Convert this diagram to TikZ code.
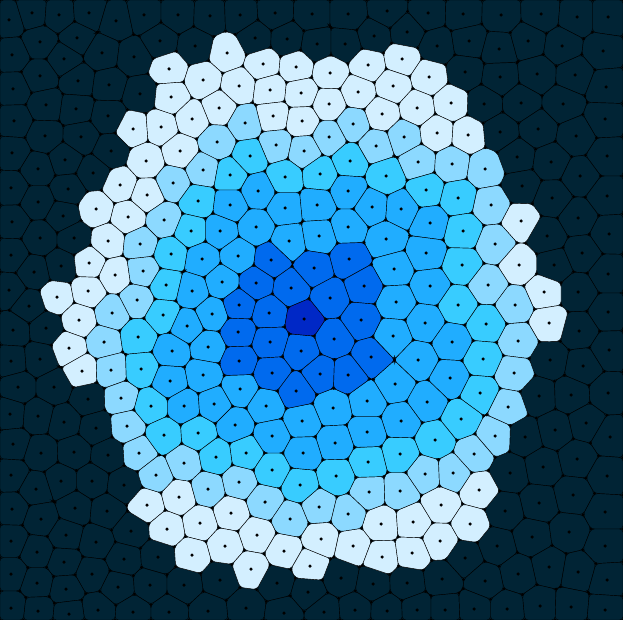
\documentclass[tikz,border=0pt]{standalone}
\usepackage{xcolor}

\definecolor{cellk}{HTML}{012435}
\definecolor{cella}{HTML}{D3EFFF}
\definecolor{cellb}{HTML}{8CD9FF}
\definecolor{cellc}{HTML}{38CCFF}
\definecolor{celld}{HTML}{20ADFF}
\definecolor{celle}{HTML}{006AEE}
\definecolor{cellf}{HTML}{0028C6}

% seeds in pixels, x/y/shade
\def\seedlist{
  9/20/k,32/13/k,59/15/k,89/13/k,116/21/k,144/15/k,178/15/k,210/16/k,240/15/k,275/13/k,
  312/14/k,348/14/k,387/11/k,428/13/k,463/14/k,501/15/k,541/14/k,577/17/k,608/17/k,
  40/42/k,77/38/k,12/55/k,64/59/k,102/53/k,134/57/k,160/41/k,195/46/k,255/38/k,287/39/k,
  317/44/k,345/44/k,374/36/k,407/32/k,437/46/k,469/41/k,499/49/k,528/41/k,562/46/k,603/51/k,
  40/76/k,78/81/k,13/89/k,109/85/k,140/94/k,465/72/k,500/77/k,537/74/k,575/75/k,606/87/k,
  46/105/k,76/109/k,108/116/k,14/121/k,484/104/k,521/103/k,563/104/k,605/119/k,
  45/136/k,81/137/k,12/153/k,111/151/k,65/160/k,38/169/k,500/132/k,538/129/k,576/136/k,
  93/173/k,11/188/k,68/189/k,38/202/k,517/157/k,551/162/k,607/156/k,580/176/k,522/186/k,552/198/k,607/196/k,
  12/222/k,63/216/k,40/238/k,74/238/k,11/255/k,61/266/k,34/272/k,9/290/k,29/306/k,13/330/k,
  46/328/k,11/361/k,40/359/k,18/387/k,54/387/k,88/399/k,
  578/218/k,547/236/k,609/234/k,582/253/k,554/265/k,608/274/k,578/292/k,608/312/k,579/331/k,
  609/350/k,550/360/k,583/366/k,608/393/k,539/396/k,571/395/k,
  10/414/k,38/416/k,64/422/k,96/428/k,13/444/k,41/453/k,74/452/k,108/455/k,11/475/k,61/481/k,
  92/481/k,124/485/k,36/489/k,12/509/k,75/508/k,41/519/k,107/511/k,66/535/k,131/531/k,11/541/k,
  96/542/k,37/552/k,64/562/k,124/559/k,158/557/k,11/574/k,92/574/k,37/583/k,118/587/k,150/585/k,
  66/589/k,11/608/k,98/610/k,38/611/k,69/614/k,133/612/k,
  220/580/k,184/585/k,277/583/k,308/592/k,246/608/k,208/611/k,169/612/k,284/613/k,
  465/558/k,341/578/k,373/584/k,407/583/k,442/579/k,324/612/k,355/610/k,387/611/k,417/610/k,445/610/k,
  525/437/k,555/430/k,586/423/k,610/437/k,510/473/k,543/467/k,577/459/k,607/476/k,539/503/k,573/495/k,
  505/511/k,605/512/k,532/537/k,569/532/k,497/546/k,605/546/k,549/567/k,518/574/k,578/572/k,607/580/k,
  485/581/k,540/606/k,571/607/k,474/609/k,507/609/k,605/610/k,
  133/129/a,161/127/a,146/161/a,120/185/a,147/195/a,96/209/a,227/53/a,263/64/a,296/67/a,169/69/a,
  203/80/a,239/86/a,270/90/a,301/93/a,171/97/a,219/108/a,273/116/a,302/121/a,192/119/a,180/151/a,
  368/65/a,402/59/a,330/73/a,429/77/a,393/86/a,358/92/a,329/104/a,417/108/a,451/103/a,382/114/a,
  437/133/a,468/135/a,521/221/a,519/265/a,544/292/a,549/323/a,128/217/a,108/241/a,89/263/a,115/275/a,
  57/297/a,88/291/a,79/320/a,69/348/a,82/371/a,147/505/a,179/497/a,200/523/a,231/513/a,167/529/a,
  257/535/a,225/546/a,284/551/a,192/555/a,310/566/a,251/569/a,381/524/a,413/522/a,321/539/a,353/546/a,
  440/541/a,382/557/a,412/553/a,441/505/a,479/490/a,470/524/a,
  245/123/b,217/142/b,276/145/b,304/151/b,203/170/b,173/183/b,353/124/b,329/137/b,376/146/b,404/137/b,
  418/162/b,452/164/b,485/169/b,491/205/b,495/244/b,488/285/b,515/305/b,518/341/b,514/373/b,508/407/b,
  495/436/b,474/454/b,140/244/b,143/271/b,137/300/b,112/313/b,104/342/b,111/370/b,121/398/b,164/220/b,
  127/426/b,139/453/b,156/475/b,184/463/b,239/482/b,208/489/b,265/502/b,290/519/b,369/492/b,400/491/b,
  425/474/b,453/473/b,319/507/b,348/514/b,
  250/156/c,285/177/c,230/175/c,198/201/c,350/161/c,320/174/c,386/176/c,426/190/c,458/198/c,463/231/c,
  462/265/c,458/305/c,486/324/c,483/359/c,480/393/c,191/231/c,171/254/c,166/285/c,163/315/c,138/337/c,
  141/369/c,151/406/c,461/419/c,435/440/c,400/454/c,368/462/c,336/476/c,198/433/c,164/435/c,246/453/c,
  216/457/c,272/470/c,300/485/c,
  258/191/d,230/205/d,285/208/d,348/191/d,317/205/d,372/207/d,401/209/d,220/231/d,256/227/d,289/241/d,
  202/259/d,238/256/d,222/282/d,192/291/d,212/314/d,187/326/d,172/351/d,208/347/d,203/375/d,170/381/d,
  240/389/d,184/406/d,214/404/d,266/406/d,430/223/d,348/227/d,319/236/d,386/239/d,426/253/d,394/269/d,
  430/286/d,396/302/d,425/323/d,393/336/d,452/342/d,418/360/d,450/378/d,395/384/d,367/401/d,427/402/d,
  333/408/d,401/421/d,367/432/d,335/443/d,235/425/d,302/421/d,272/436/d,303/453/d,
  271/260/e,256/283/e,291/288/e,239/305/e,269/313/e,238/332/e,270/342/e,301/351/e,239/361/e,272/373/e,
  296/391/e,349/259/e,314/268/e,364/286/e,330/298/e,361/320/e,334/339/e,371/357/e,320/374/e,348/375/e,
  304/319/f}

% cut \cell (in 1/8 pixels) down to the side of the current seed, facing seed #1,#2
\def\cutadd#1#2{\edef\newcell{\unexpanded\expandafter{\newcell}\noexpand\do
  {\the\numexpr\prevx+(#1-\prevx)*\prevf/(\prevf-\curf)\relax}%
  {\the\numexpr\prevy+(#2-\prevy)*\prevf/(\prevf-\curf)\relax}}}
\def\cutstep#1#2{%
  \edef\curf{\the\numexpr(#1-4*\mx)*\dx+(#2-4*\my)*\dy\relax}%
  \ifnum\curf>0 \ifnum\prevf>0 \else\cutadd{#1}{#2}\fi
  \else \ifnum\prevf>0 \cutadd{#1}{#2}\fi
    \edef\newcell{\unexpanded\expandafter{\newcell}\noexpand\do{#1}{#2}}\fi
  \def\prevx{#1}\def\prevy{#2}\let\prevf\curf}
\def\cutcell#1#2{%
  \edef\dx{\the\numexpr#1-\sx}\edef\dy{\the\numexpr#2-\sy}%
  \edef\mx{\the\numexpr#1+\sx}\edef\my{\the\numexpr#2+\sy}%
  \def\do##1##2{\def\prevx{##1}\def\prevy{##2}}\cell
  \edef\prevf{\the\numexpr(\prevx-4*\mx)*\dx+(\prevy-4*\my)*\dy\relax}%
  \def\newcell{}\let\do\cutstep\cell\let\cell\newcell}
\def\scan#1/#2/#3,{\ifnum#1<0 \else
  \ifnum\numexpr(#1-\sx)*(#1-\sx)+(#2-\sy)*(#2-\sy)\relax<6400
    \ifnum\numexpr(#1-\sx)*(#1-\sx)+(#2-\sy)*(#2-\sy)\relax>0 \cutcell{#1}{#2}\fi\fi
  \expandafter\scan\fi}

\begin{document}
\begin{tikzpicture}[x=0.125pt, y=-0.125pt,
    cellline/.style={draw=black, line width=0.42pt, rounded corners=3.5pt},
    dotmark/.style={fill=black}]
  \useasboundingbox (0,0) rectangle (4984,4960);
  \clip (0,0) rectangle (4984,4960);
  \fill[cellk] (0,0) rectangle (4984,4960);
  \gdef\dotpath{}
  \foreach \sx/\sy/\sc in \seedlist {
    \def\cell{\do{0}{0}\do{4984}{0}\do{4984}{4960}\do{0}{4960}}
    \expandafter\scan\seedlist,-1/0/0,
    \def\cellpath{}\def\lastv{}
    \def\do##1##2{\edef\thisv{##1,##2}\ifx\thisv\lastv\else
      \edef\cellpath{\cellpath(##1,##2) -- }%
      \xdef\dotpath{\dotpath(##1,##2) circle[radius=1.5pt] }\fi\let\lastv\thisv}
    \cell
    \edef\cellpath{\cellpath cycle}
    \draw[cellline, fill=cell\sc] \cellpath;
    \xdef\dotpath{\dotpath(\the\numexpr\sx*8\relax,\the\numexpr\sy*8\relax) circle[radius=1.75pt] }
  }
  \fill[dotmark] \dotpath;
\end{tikzpicture}
\end{document}
